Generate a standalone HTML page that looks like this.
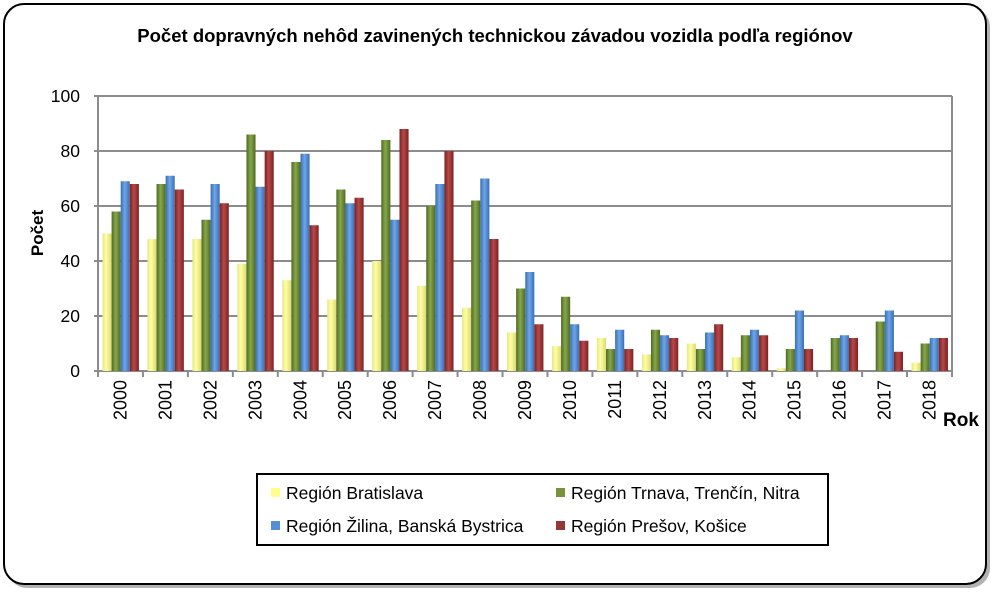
<!DOCTYPE html>
<html><head><meta charset="utf-8"><style>
html,body{margin:0;padding:0;background:#fff;}
svg{display:block;font-family:"Liberation Sans",Arial,sans-serif;}
</style></head><body>
<svg id="s" width="997" height="598" xmlns="http://www.w3.org/2000/svg">
<defs>
<linearGradient id="gy" x1="0" x2="1"><stop offset="0" stop-color="#e6e68a"/><stop offset="0.4" stop-color="#ffff9e"/><stop offset="1" stop-color="#d9d97a"/></linearGradient>
<linearGradient id="gg" x1="0" x2="1"><stop offset="0" stop-color="#4f6a22"/><stop offset="0.45" stop-color="#86a84a"/><stop offset="1" stop-color="#4f6a22"/></linearGradient>
<linearGradient id="gb" x1="0" x2="1"><stop offset="0" stop-color="#3a6fb0"/><stop offset="0.45" stop-color="#6ea6ea"/><stop offset="1" stop-color="#3a6fb0"/></linearGradient>
<linearGradient id="gr" x1="0" x2="1"><stop offset="0" stop-color="#7a2222"/><stop offset="0.45" stop-color="#b84848"/><stop offset="1" stop-color="#7a2222"/></linearGradient>
</defs>
<rect x="7" y="7" width="983" height="581" rx="20" fill="#666" opacity="0.5"/>
<rect x="4" y="4" width="982" height="580" rx="20" fill="#fff" stroke="#000" stroke-width="2"/>
<text x="495" y="42" text-anchor="middle" font-weight="bold" font-size="18.5">Počet dopravných nehôd zavinených technickou závadou vozidla podľa regiónov</text>
<g id="grid"></g>
<g id="bars"></g>
<text transform="translate(43,233) rotate(-90)" text-anchor="middle" font-weight="bold" font-size="17">Počet</text>
<text x="943" y="426" font-weight="bold" font-size="19">Rok</text>
<rect x="257" y="474" width="571" height="71" fill="#fff" stroke="#000" stroke-width="2"/>
<rect x="271" y="488" width="9" height="9" fill="#ffff8a"/><text x="286" y="499" font-size="17.5">Región Bratislava</text>
<rect x="556" y="488" width="9" height="9" fill="#77933c"/><text x="571" y="499" font-size="17.5">Región Trnava, Trenčín, Nitra</text>
<rect x="271" y="521" width="9" height="9" fill="#558ed5"/><text x="286" y="532" font-size="17.5">Región Žilina, Banská Bystrica</text>
<rect x="556" y="521" width="9" height="9" fill="#953735"/><text x="571" y="532" font-size="17.5">Región Prešov, Košice</text>
</svg>
<script>
var d=[[50,58,69,68],[48,68,71,66],[48,55,68,61],[39,86,67,80],[33,76,79,53],[26,66,61,63],[40,84,55,88],[31,60,68,80],[23,62,70,48],[14,30,36,17],[9,27,17,11],[12,8,15,8],[6,15,13,12],[10,8,14,17],[5,13,15,13],[1,8,22,8],[0,12,13,12],[0,18,22,7],[3,10,12,12]];
var x0=98,x1=952,y0=371,k=2.75,gw=(x1-x0)/19,g=document.getElementById('grid'),b=document.getElementById('bars'),h='',hb='';
for(var v=0;v<=100;v+=20){var y=y0-v*k;h+='<line x1="'+(x0-4)+'" x2="'+x1+'" y1="'+y+'" y2="'+y+'" stroke="#8c8c8c" stroke-width="2"/>';h+='<text x="80" y="'+(y+6)+'" text-anchor="end" font-size="17.5">'+v+'</text>';}
h+='<line x1="'+x1+'" x2="'+x1+'" y1="96" y2="'+y0+'" stroke="#8c8c8c" stroke-width="2"/>';
h+='<line x1="'+x0+'" x2="'+x0+'" y1="96" y2="'+(y0+6)+'" stroke="#8c8c8c" stroke-width="2"/>';
for(var i=0;i<=19;i++){var x=x0+i*gw;h+='<line x1="'+x+'" x2="'+x+'" y1="'+y0+'" y2="'+(y0+6)+'" stroke="#8c8c8c" stroke-width="2"/>';}
var f=['url(#gy)','url(#gg)','url(#gb)','url(#gr)'];
for(var i=0;i<19;i++){var gx=x0+i*gw;for(var j=0;j<4;j++){var v=d[i][j];if(!v)continue;hb+='<rect x="'+(gx+4.5+j*9.1)+'" y="'+(y0-v*k)+'" width="9.1" height="'+(v*k)+'" fill="'+f[j]+'"/>';}
var cx=gx+gw/2;hb+='<text transform="translate('+(cx+6)+',380) rotate(-90)" text-anchor="end" font-size="18">'+(2000+i)+'</text>';}
g.innerHTML=h;b.innerHTML=hb;
</script>
</body></html>
